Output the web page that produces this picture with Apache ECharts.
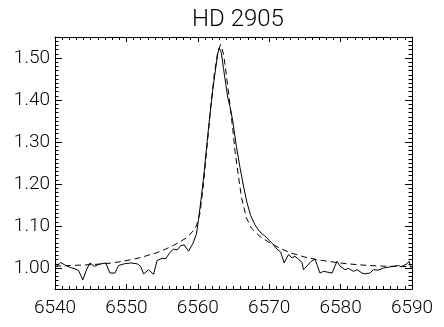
<!DOCTYPE html>
<html>
<head>
<meta charset="utf-8">
<title>HD 2905</title>
<script src="https://cdn.jsdelivr.net/npm/echarts@6/dist/echarts.min.js"></script>
<style>
  html, body { margin: 0; padding: 0; background: #fff; }
  #chart { width: 444px; height: 327px; }
</style>
</head>
<body>
<div id="chart"></div>
<script>
// observed spectrum (solid)
const obsWave = [
  6540.0, 6540.8, 6541.5, 6542.2, 6542.8, 6543.3, 6543.9, 6544.4, 6544.9, 6545.5,
  6546.2, 6547.1, 6547.7, 6548.4, 6548.9, 6549.7, 6550.6, 6551.5, 6552.0, 6552.4,
  6553.1, 6553.8, 6554.3, 6555.0, 6555.5, 6556.1, 6556.6, 6557.1, 6557.6, 6558.1,
  6558.7, 6559.3, 6559.8, 6560.1, 6560.5, 6560.9, 6561.3, 6561.7, 6562.1, 6562.5,
  6562.8, 6563.0, 6563.3, 6563.6, 6563.9, 6564.2, 6564.5, 6564.9, 6565.4, 6565.9,
  6566.4, 6566.9, 6567.4, 6568.0, 6568.7, 6569.4, 6570.0, 6570.6, 6571.1, 6571.6,
  6572.1, 6572.7, 6573.2, 6573.6, 6574.1, 6574.6, 6574.8, 6575.3, 6575.9, 6576.4,
  6576.7, 6577.1, 6577.6, 6578.2, 6578.8, 6579.2, 6579.5, 6579.9, 6580.6, 6581.1,
  6581.8, 6582.3, 6583.0, 6583.4, 6584.1, 6584.6, 6585.3, 6586.0, 6586.7, 6587.4,
  6588.1, 6588.5, 6589.3, 6589.6, 6589.8, 6590.0
];
const obsFlux = [
  1.000, 1.013, 1.006, 1.001, 0.998, 0.994, 0.972, 0.995, 1.012, 1.004,
  1.009, 1.012, 0.988, 0.988, 1.006, 1.010, 1.012, 1.010, 1.004, 0.986,
  0.996, 0.985, 1.018, 1.023, 1.022, 1.037, 1.045, 1.043, 1.053, 1.055,
  1.040, 1.058, 1.080, 1.115, 1.170, 1.230, 1.300, 1.365, 1.425, 1.475,
  1.510, 1.524, 1.512, 1.475, 1.440, 1.405, 1.385, 1.350, 1.290, 1.240,
  1.195, 1.155, 1.125, 1.103, 1.086, 1.076, 1.066, 1.055, 1.045, 1.038,
  1.012, 1.032, 1.024, 1.028, 1.021, 1.013, 0.996, 1.005, 1.016, 1.021,
  1.008, 0.988, 0.992, 0.990, 0.988, 1.004, 1.016, 1.005, 0.996, 0.999,
  0.992, 0.996, 0.988, 0.986, 0.988, 0.996, 0.995, 1.000, 1.002, 1.004,
  1.006, 1.003, 1.010, 1.016, 1.002, 1.003
];

// model profile (dashed)
const modelWave = [
  6540.0, 6542.0, 6544.0, 6546.0, 6548.0, 6549.5, 6551.0, 6552.0, 6553.0, 6554.2,
  6555.5, 6556.6, 6557.5, 6558.4, 6559.2, 6559.8, 6560.3, 6560.8, 6561.3, 6561.8,
  6562.3, 6562.8, 6563.2, 6563.6, 6564.0, 6564.5, 6564.9, 6565.2, 6565.6, 6566.1,
  6566.8, 6567.5, 6568.7, 6569.9, 6571.5, 6573.0, 6575.0, 6577.0, 6579.0, 6581.0,
  6583.0, 6585.0, 6587.0, 6590.0
];
const modelFlux = [
  1.004, 1.006, 1.007, 1.009, 1.012, 1.016, 1.021, 1.025, 1.030, 1.036,
  1.045, 1.054, 1.062, 1.072, 1.085, 1.100, 1.130, 1.200, 1.290, 1.380,
  1.460, 1.515, 1.532, 1.510, 1.460, 1.390, 1.330, 1.280, 1.230, 1.170,
  1.120, 1.095, 1.075, 1.062, 1.047, 1.036, 1.026, 1.019, 1.014, 1.010,
  1.007, 1.005, 1.004, 1.003
];

const yLabelValues = [1.0, 1.1, 1.2, 1.3, 1.4, 1.5];

const FONT = "Roboto";
const INK = "#000";

function pairs(xs, ys) {
  return xs.map((x, i) => [x, ys[i]]);
}

function xAxisDef(position, withLabels) {
  return {
    type: "value",
    position,
    min: 6540,
    max: 6590,
    interval: 10,
    axisLine: { show: true, onZero: false, lineStyle: { color: INK, width: 1 } },
    axisTick: { show: true, inside: true, length: 5, lineStyle: { color: INK } },
    minorTick: { show: true, splitNumber: 10, length: 3, lineStyle: { color: INK } },
    splitLine: { show: false },
    axisLabel: {
      show: withLabels,
      margin: 10,
      color: INK,
      fontFamily: FONT,
      fontWeight: 300,
      fontSize: 19,
      formatter: (v) => String(Math.round(v)),
    },
  };
}

// minor ticks every 0.01
function yMinorAxis(position) {
  return {
    type: "value",
    position,
    min: 0.95,
    max: 1.55,
    interval: 0.01,
    axisLine: { show: true, onZero: false, lineStyle: { color: INK, width: 1 } },
    axisTick: { show: true, inside: true, length: 3.5, lineStyle: { color: INK } },
    splitLine: { show: false },
    axisLabel: { show: false },
  };
}

// major ticks + labels at 1.00 .. 1.50
function yMajorAxis(position, withLabels) {
  return {
    type: "value",
    position,
    min: 0.95,
    max: 1.55,
    axisLine: { show: false },
    axisTick: {
      show: true,
      inside: true,
      length: 7,
      customValues: yLabelValues,
      lineStyle: { color: INK },
    },
    splitLine: { show: false },
    axisLabel: {
      show: withLabels,
      customValues: yLabelValues,
      margin: 5,
      color: INK,
      fontFamily: FONT,
      fontWeight: 300,
      fontSize: 19,
      formatter: (v) => v.toFixed(2),
    },
  };
}

function buildOption() {
  return {
    backgroundColor: "#fff",
    animation: false,
    title: {
      text: "HD 2905",
      left: 233,
      textAlign: "center",
      top: 3,
      textStyle: {
        color: INK,
        fontFamily: FONT,
        fontWeight: 300,
        fontSize: 24,
      },
    },
    grid: { left: 55, right: 32, top: 37, bottom: 38, containLabel: false },
    xAxis: [xAxisDef("bottom", true), xAxisDef("top", false)],
    yAxis: [
      yMinorAxis("left"),
      yMajorAxis("left", true),
      yMinorAxis("right"),
      yMajorAxis("right", false),
    ],
    series: [
      {
        name: "observed",
        type: "line",
        xAxisIndex: 0,
        yAxisIndex: 0,
        showSymbol: false,
        smooth: false,
        lineStyle: { color: INK, width: 1 },
        data: pairs(obsWave, obsFlux),
      },
      {
        name: "model",
        type: "line",
        xAxisIndex: 0,
        yAxisIndex: 0,
        showSymbol: false,
        smooth: false,
        lineStyle: { color: INK, width: 1, type: [6, 4] },
        data: pairs(modelWave, modelFlux),
      },
    ],
  };
}

const chart = echarts.init(document.getElementById("chart"), null, { renderer: "canvas" });
chart.setOption(buildOption());
</script>
</body>
</html>
